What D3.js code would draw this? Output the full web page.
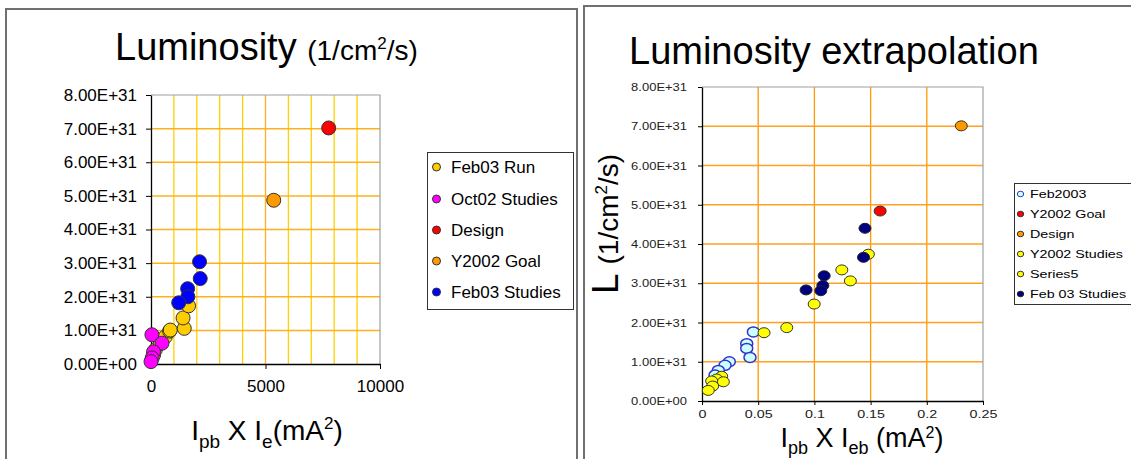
<!DOCTYPE html>
<html>
<head>
<meta charset="utf-8">
<script src="https://cdn.jsdelivr.net/npm/d3@7"></script>
<style>
  html, body { margin: 0; padding: 0; background: #fff; }
  svg { display: block; font-family: "Liberation Sans", Arial, sans-serif; }
</style>
</head>
<body>
<svg id="chart" width="1131" height="459"></svg>
<script>
// ---------- Left panel: Luminosity vs Ipb x Ie ----------
const leftSeriesNames = ["Feb03 Run", "Oct02 Studies", "Design", "Y2002 Goal", "Feb03 Studies"];
const leftSeriesColors = ["#ffcc00", "#ff00ff", "#ff0000", "#ff9900", "#0000ff"];
// [Ipb*Ie (mA^2), L (1/cm^2/s)]
const feb03Run = [[113, 0.27e31], [188, 0.42e31], [406, 0.61e31], [624, 0.81e31], [811, 0.98e31],
                  [842, 1.01e31], [1453, 1.06e31], [1400, 1.37e31], [1640, 1.73e31]];
const oct02Studies = [[40, 0.87e31], [480, 0.62e31], [110, 0.36e31], [50, 0.18e31], [0, 0.07e31]];
const designLeft = [[7760, 7.02e31]];
const goalLeft = [[5360, 4.87e31]];
const feb03StudiesLeft = [[2120, 3.04e31], [2150, 2.54e31], [1600, 2.24e31], [1610, 2.0e31], [1210, 1.82e31]];
const leftXTicks = [0, 5000, 10000];
const leftXGrid = [1000, 2000, 3000, 4000, 5000, 6000, 7000, 8000, 9000];
const leftYTicks = [0, 1e31, 2e31, 3e31, 4e31, 5e31, 6e31, 7e31, 8e31];

// ---------- Right panel: Luminosity extrapolation ----------
const rightSeriesNames = ["Feb2003", "Y2002 Goal", "Design", "Y2002 Studies", "Series5", "Feb 03 Studies"];
const rightSeriesFills = ["#ccffff", "#ff0000", "#ff9900", "#ffff00", "#ffff00", "#000080"];
const rightSeriesStrokes = ["#3333cc", "#333333", "#333333", "#333333", "#333333", "#222222"];
const feb2003 = [[0.0457, 1.76e31], [0.0398, 1.46e31], [0.0398, 1.34e31], [0.0427, 1.11e31], [0.0243, 1.0e31],
                 [0.0205, 0.91e31], [0.0145, 0.78e31], [0.0116, 0.66e31]];
const goalRight = [[0.1585, 4.84e31]];
const designRight = [[0.2307, 7.01e31]];
const y2002Studies = [[0.148, 3.74e31], [0.1244, 3.34e31], [0.132, 3.06e31], [0.0998, 2.47e31],
                      [0.0754, 1.87e31], [0.0552, 1.74e31]];
const series5 = [[0.0175, 0.63e31], [0.013, 0.56e31], [0.0086, 0.51e31], [0.019, 0.49e31],
                 [0.0095, 0.38e31], [0.0056, 0.27e31]];
const feb03StudiesRight = [[0.145, 4.40e31], [0.1437, 3.66e31], [0.1087, 3.19e31], [0.1075, 2.94e31],
                           [0.1057, 2.81e31], [0.0926, 2.83e31]];
const rightXTicks = [0, 0.05, 0.1, 0.15, 0.2, 0.25];
const rightYTicks = [0, 1e31, 2e31, 3e31, 4e31, 5e31, 6e31, 7e31, 8e31];

const sci = v => v === 0 ? "0.00E+00" : (v / 1e31).toFixed(2) + "E+31";

const svg = d3.select("#chart");

// panel frames
svg.append("path")
  .attr("d", "M6,470 L6,9 L577,9 L577,470")
  .attr("fill", "none").attr("stroke", "#707070").attr("stroke-width", 2);
svg.append("path")
  .attr("d", "M584,470 L584,6 L1140,6")
  .attr("fill", "none").attr("stroke", "#707070").attr("stroke-width", 2);

// ================= LEFT CHART =================
{
  const g = svg.append("g");
  const x = d3.scaleLinear().domain([0, 10000]).range([151, 380]);
  const y = d3.scaleLinear().domain([0, 8e31]).range([364, 95]);

  // title
  const t = g.append("text").attr("x", 115).attr("y", 60).attr("fill", "#000");
  t.append("tspan").attr("font-size", 38).text("Luminosity ");
  t.append("tspan").attr("font-size", 28).text("(1/cm");
  t.append("tspan").attr("font-size", 17).attr("dy", -11).text("2");
  t.append("tspan").attr("font-size", 28).attr("dy", 11).text("/s)");

  // grid
  g.selectAll("line.vg").data(leftXGrid).join("line")
    .attr("x1", d => x(d)).attr("x2", d => x(d)).attr("y1", y(8e31)).attr("y2", y(0))
    .attr("stroke", d => d === 5000 ? "#ffb020" : "#ffd000").attr("stroke-width", 1.3);
  g.selectAll("line.hg").data(leftYTicks.filter(d => d > 0 && d < 8e31)).join("line")
    .attr("x1", x(0)).attr("x2", x(10000)).attr("y1", d => y(d)).attr("y2", d => y(d))
    .attr("stroke", "#ffb020").attr("stroke-width", 1.5);
  // top/right border
  g.append("path").attr("d", `M${x(0)},${y(8e31)} L${x(10000)},${y(8e31)} L${x(10000)},${y(0)}`)
    .attr("fill", "none").attr("stroke", "#a0a0a0").attr("stroke-width", 1.2);

  // axes
  const yAxis = g.append("g").attr("transform", `translate(${x(0)},0)`)
    .call(d3.axisLeft(y).tickValues(leftYTicks).tickFormat(sci).tickSize(5).tickPadding(9).tickSizeOuter(0));
  const xAxis = g.append("g").attr("transform", `translate(0,${y(0)})`)
    .call(d3.axisBottom(x).tickValues(leftXTicks).tickFormat(d3.format("d")).tickSize(5).tickPadding(11).tickSizeOuter(0));
  [yAxis, xAxis].forEach(a => {
    a.selectAll("path.domain").attr("stroke", "#000").attr("stroke-width", 1.3);
    a.selectAll("line").attr("stroke", "#000");
    a.selectAll("text").attr("font-size", 17).attr("fill", "#000").attr("font-family", "Liberation Sans, Arial, sans-serif");
  });

  // points
  const series = [feb03Run, oct02Studies, designLeft, goalLeft, feb03StudiesLeft];
  series.forEach((s, i) => {
    g.append("g").selectAll("circle").data(s).join("circle")
      .attr("cx", d => x(d[0])).attr("cy", d => y(d[1])).attr("r", 7)
      .attr("fill", leftSeriesColors[i]).attr("stroke", "#333").attr("stroke-width", 1);
  });

  // x label
  const xl = g.append("text").attr("x", 267).attr("y", 440).attr("text-anchor", "middle").attr("fill", "#000");
  xl.append("tspan").attr("font-size", 28).text("I");
  xl.append("tspan").attr("font-size", 19).attr("dy", 8).text("pb");
  xl.append("tspan").attr("font-size", 28).attr("dy", -8).text(" X I");
  xl.append("tspan").attr("font-size", 19).attr("dy", 8).text("e");
  xl.append("tspan").attr("font-size", 28).attr("dy", -8).text("(mA");
  xl.append("tspan").attr("font-size", 17).attr("dy", -11).text("2");
  xl.append("tspan").attr("font-size", 28).attr("dy", 11).text(")");

  // legend
  const lg = g.append("g");
  lg.append("rect").attr("x", 427.5).attr("y", 152.5).attr("width", 146).attr("height", 157)
    .attr("fill", "#fff").attr("stroke", "#333");
  const ly = [167, 199, 230, 261, 292];
  leftSeriesNames.forEach((n, i) => {
    lg.append("circle").attr("cx", 436.5).attr("cy", ly[i]).attr("r", 4)
      .attr("fill", leftSeriesColors[i]).attr("stroke", "#333").attr("stroke-width", 1);
    lg.append("text").attr("x", 451).attr("y", ly[i]).attr("dy", "0.36em")
      .attr("font-size", 17).attr("fill", "#000").text(n);
  });
}

// ================= RIGHT CHART =================
{
  const g = svg.append("g");
  const x = d3.scaleLinear().domain([0, 0.25]).range([702, 983]);
  const y = d3.scaleLinear().domain([0, 8e31]).range([401, 87]);
  const SX = 1.3;

  // title
  g.append("text").attr("x", 629).attr("y", 64).attr("font-size", 38).attr("fill", "#000")
    .text("Luminosity extrapolation");

  // grid
  g.selectAll("line.vg").data(rightXTicks.filter(d => d > 0 && d < 0.25)).join("line")
    .attr("x1", d => x(d)).attr("x2", d => x(d)).attr("y1", y(8e31)).attr("y2", y(0))
    .attr("stroke", "#ff9900").attr("stroke-width", 1.3);
  g.selectAll("line.hg").data(rightYTicks.filter(d => d > 0 && d < 8e31)).join("line")
    .attr("x1", x(0)).attr("x2", x(0.25)).attr("y1", d => y(d)).attr("y2", d => y(d))
    .attr("stroke", "#ffa020").attr("stroke-width", 1.3);
  g.append("path").attr("d", `M${x(0)},${y(8e31)} L${x(0.25)},${y(8e31)} L${x(0.25)},${y(0)}`)
    .attr("fill", "none").attr("stroke", "#a0a0a0").attr("stroke-width", 1.2);

  // axes
  const yAxis = g.append("g").attr("transform", `translate(${x(0)},0)`)
    .call(d3.axisLeft(y).tickValues(rightYTicks).tickFormat(sci).tickSize(4).tickSizeOuter(0));
  const xAxis = g.append("g").attr("transform", `translate(0,${y(0)})`)
    .call(d3.axisBottom(x).tickValues(rightXTicks).tickFormat(d => d === 0 ? "0" : String(d)).tickSize(4).tickSizeOuter(0));
  [yAxis, xAxis].forEach(a => {
    a.selectAll("path.domain").attr("stroke", "#000").attr("stroke-width", 1.3);
    a.selectAll("line").attr("stroke", "#000");
    a.selectAll("text").attr("fill", "#222").attr("font-family", "Liberation Sans, Arial, sans-serif");
  });
  yAxis.selectAll("text").attr("font-size", 10).attr("x", -11.5).attr("dy", "0.35em")
    .attr("transform", `scale(${SX},1)`);
  xAxis.selectAll("text").attr("font-size", 11).attr("y", 9).attr("dy", "0.72em")
    .attr("transform", `scale(${SX},1)`);

  // points
  const series = [feb2003, goalRight, designRight, y2002Studies, series5, feb03StudiesRight];
  series.forEach((s, i) => {
    g.append("g").selectAll("ellipse").data(s).join("ellipse")
      .attr("cx", d => x(d[0])).attr("cy", d => y(d[1])).attr("rx", 6).attr("ry", 5)
      .attr("fill", rightSeriesFills[i]).attr("stroke", rightSeriesStrokes[i])
      .attr("stroke-width", i === 0 ? 1.5 : 1);
  });

  // y label
  const yl = g.append("text").attr("transform", "translate(618,294) rotate(-90)").attr("fill", "#000");
  yl.append("tspan").attr("font-size", 37).text("L ");
  yl.append("tspan").attr("font-size", 28).text("(1/cm");
  yl.append("tspan").attr("font-size", 17).attr("dy", -11).text("2");
  yl.append("tspan").attr("font-size", 28).attr("dy", 11).text("/s)");

  // x label
  const xl = g.append("text").attr("x", 862).attr("y", 447).attr("text-anchor", "middle").attr("fill", "#000");
  xl.append("tspan").attr("font-size", 27).text("I");
  xl.append("tspan").attr("font-size", 18).attr("dy", 7).text("pb");
  xl.append("tspan").attr("font-size", 27).attr("dy", -7).text(" X I");
  xl.append("tspan").attr("font-size", 18).attr("dy", 7).text("eb");
  xl.append("tspan").attr("font-size", 27).attr("dy", -7).text(" (mA");
  xl.append("tspan").attr("font-size", 16).attr("dy", -9).text("2");
  xl.append("tspan").attr("font-size", 27).attr("dy", 9).text(")");

  // legend
  const lg = g.append("g");
  lg.append("rect").attr("x", 1014.5).attr("y", 183.5).attr("width", 130).attr("height", 121)
    .attr("fill", "#fff").attr("stroke", "#333");
  const ly = [194, 214, 234, 254, 274, 294];
  rightSeriesNames.forEach((n, i) => {
    lg.append("ellipse").attr("cx", 1020.5).attr("cy", ly[i]).attr("rx", 3.2).attr("ry", 2.8)
      .attr("fill", rightSeriesFills[i]).attr("stroke", rightSeriesStrokes[i]).attr("stroke-width", 1);
    lg.append("text").attr("x", 1030 / SX).attr("y", ly[i]).attr("dy", "0.36em")
      .attr("transform", `scale(${SX},1)`)
      .attr("font-size", 11).attr("fill", "#000").text(n);
  });
}
</script>
</body>
</html>
